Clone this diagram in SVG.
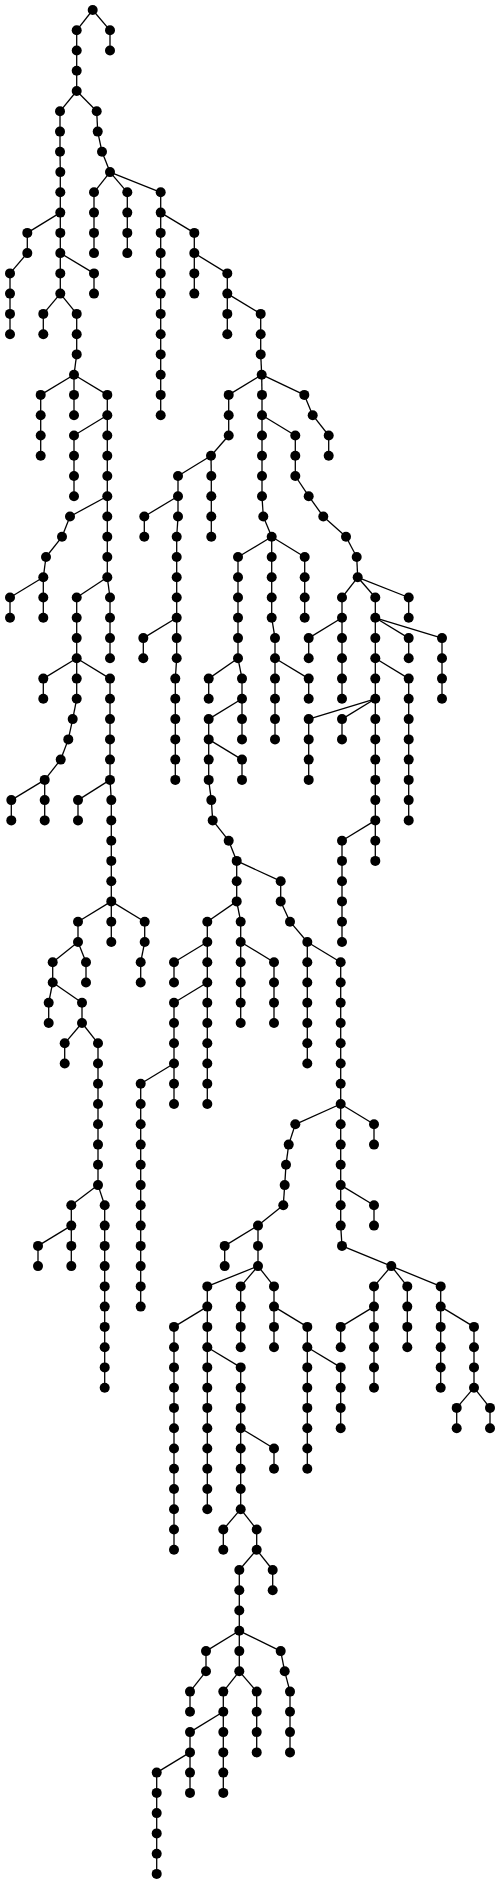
<svg xmlns="http://www.w3.org/2000/svg" width="500" height="1885" viewBox="0 0 500 1885">
<style>
#edges path{stroke:#000;stroke-width:1.3;fill:none}
#nodes circle{fill:#000;r:5px}
</style>
<rect width="500" height="1885" fill="#fff"/>
<g id="edges">
<path d="M92.7 10L76.7 30.3"/><path d="M76.7 30.3V50.5"/><path d="M76.7 50.5V70.8"/><path d="M76.7 70.8V91"/><path d="M76.7 91L60 111.3"/><path d="M60 111.3V131.6"/><path d="M60 131.6V151.8"/><path d="M60 151.8L60.3 172.1"/><path d="M60.3 172.1V192.3"/><path d="M60.3 192.3V212.6"/>
<path d="M60.3 212.6L27.3 232.9"/><path d="M27.3 232.9V253.1"/><path d="M27.3 253.1L10 273.4"/><path d="M10 273.4V293.6"/><path d="M10 293.6V313.9"/><path d="M10 313.9V334.2"/>
<path d="M60.3 212.6V232.9"/><path d="M60.3 232.9V253.1"/><path d="M60.3 253.1L94 273.4"/><path d="M94 273.4V293.6"/><path d="M60.3 253.1V273.4"/><path d="M60.3 273.4V293.6"/><path d="M60.3 293.6L43.3 313.9"/><path d="M43.3 313.9V334.2"/><path d="M60.3 293.6L76.7 313.9"/><path d="M76.7 313.9V334.2"/><path d="M76.7 334.2V354.4"/><path d="M76.7 354.4L74 374.7"/>
<path d="M74 374.7L40.7 394.9"/><path d="M40.7 394.9V415.2"/><path d="M40.7 415.2V435.5"/><path d="M40.7 435.5V455.7"/><path d="M74 374.7V394.9"/><path d="M74 394.9V415.2"/><path d="M74 374.7L107.3 394.9"/><path d="M107.3 394.9V415.2"/><path d="M107.3 415.2L74 435.5"/><path d="M74 435.5V455.7"/><path d="M74 455.7V476"/><path d="M74 476V496.2"/>
<path d="M107.3 415.2V435.5"/><path d="M107.3 435.5V455.7"/><path d="M107.3 455.7V476"/><path d="M107.3 476V496.2"/><path d="M107.3 496.2L70 516.5"/><path d="M70 516.5L62 536.8"/><path d="M62 536.8L46 557"/><path d="M46 557L43.3 577.3"/><path d="M43.3 577.3L10 597.5"/><path d="M10 597.5V617.8"/><path d="M43.3 577.3V597.5"/><path d="M43.3 597.5V617.8"/>
<path d="M107.3 496.2V516.5"/><path d="M107.3 516.5V536.8"/><path d="M107.3 536.8V557"/><path d="M107.3 557V577.3"/><path d="M107.3 577.3L76.7 597.5"/><path d="M76.7 597.5V617.8"/><path d="M76.7 617.8V638.1"/><path d="M76.7 638.1V658.3"/><path d="M76.7 658.3L43.3 678.6"/><path d="M43.3 678.6V698.8"/><path d="M76.7 658.3V678.6"/><path d="M76.7 678.6V698.8"/>
<path d="M76.7 698.8L72.7 719.1"/><path d="M72.7 719.1L68.3 739.4"/><path d="M68.3 739.4L60.7 759.6"/><path d="M60.7 759.6L44.7 779.9"/><path d="M44.7 779.9L11.3 800.1"/><path d="M11.3 800.1V820.4"/><path d="M44.7 779.9V800.1"/><path d="M44.7 800.1V820.4"/>
<path d="M76.7 658.3L110 678.6"/><path d="M110 678.6V698.8"/><path d="M110 698.8V719.1"/><path d="M110 719.1V739.4"/><path d="M110 739.4V759.6"/><path d="M110 759.6V779.9"/><path d="M110 779.9L78 800.1"/><path d="M78 800.1V820.4"/><path d="M110 779.9L111.3 800.1"/><path d="M111.3 800.1V820.4"/><path d="M111.3 820.4V840.7"/><path d="M111.3 840.7V860.9"/><path d="M111.3 860.9V881.2"/><path d="M111.3 881.2V901.4"/>
<path d="M111.3 901.4L78 921.7"/><path d="M78 921.7V942"/><path d="M78 942L52.7 962.2"/><path d="M52.7 962.2V982.5"/><path d="M52.7 982.5L48.7 1002.7"/><path d="M48.7 1002.7V1023"/><path d="M52.7 982.5L82 1002.7"/><path d="M82 1002.7V1023"/><path d="M82 1023L64.7 1043.3"/><path d="M64.7 1043.3V1063.5"/><path d="M82 1023L98 1043.3"/>
<path d="M98 1043.3V1063.5"/><path d="M98 1063.5V1083.8"/><path d="M98 1083.8V1104"/><path d="M98 1104V1124.3"/><path d="M98 1124.3V1144.6"/><path d="M98 1144.6V1164.8"/><path d="M98 1164.8V1185.1"/><path d="M98 1185.1L71.3 1205.3"/><path d="M71.3 1205.3V1225.6"/><path d="M71.3 1225.6L38 1245.9"/><path d="M38 1245.9V1266.1"/><path d="M71.3 1225.6V1245.9"/><path d="M71.3 1245.9V1266.1"/>
<path d="M98 1185.1L104.7 1205.3"/><path d="M104.7 1205.3V1225.6"/><path d="M104.7 1225.6V1245.9"/><path d="M104.7 1245.9V1266.1"/><path d="M104.7 1266.1V1286.4"/><path d="M104.7 1286.4V1306.6"/><path d="M104.7 1306.6V1326.9"/><path d="M104.7 1326.9V1347.2"/><path d="M104.7 1347.2V1367.4"/><path d="M104.7 1367.4V1387.7"/>
<path d="M78 942L86 962.2"/><path d="M86 962.2V982.5"/><path d="M111.3 901.4V921.7"/><path d="M111.3 921.7V942"/><path d="M111.3 901.4L144.7 921.7"/><path d="M144.7 921.7V942"/><path d="M144.7 942L140.7 962.2"/><path d="M140.7 962.2V982.5"/>
<path d="M107.3 577.3L110 597.5"/><path d="M110 597.5V617.8"/><path d="M110 617.8V638.1"/><path d="M110 638.1V658.3"/>
<path d="M76.7 91L96.7 111.3"/><path d="M96.7 111.3L97.7 131.6"/><path d="M97.7 131.6L102 151.8"/><path d="M102 151.8L110 172.1"/><path d="M110 172.1L94 192.3"/><path d="M94 192.3V212.6"/><path d="M94 212.6V232.9"/><path d="M94 232.9V253.1"/><path d="M110 172.1L127.3 192.3"/><path d="M127.3 192.3V212.6"/><path d="M127.3 212.6V232.9"/><path d="M127.3 232.9V253.1"/>
<path d="M110 172.1L160.7 192.3"/><path d="M160.7 192.3V212.6"/><path d="M160.7 212.6V232.9"/><path d="M160.7 232.9V253.1"/><path d="M160.7 253.1V273.4"/><path d="M160.7 273.4V293.6"/><path d="M160.7 293.6V313.9"/><path d="M160.7 313.9V334.2"/><path d="M160.7 334.2V354.4"/><path d="M160.7 354.4V374.7"/><path d="M160.7 374.7V394.9"/><path d="M160.7 394.9V415.2"/>
<path d="M160.7 212.6L194.3 232.9"/><path d="M194.3 232.9V253.1"/><path d="M194.3 253.1V273.4"/><path d="M194.3 273.4V293.6"/><path d="M194.3 253.1L227.3 273.4"/><path d="M227.3 273.4V293.6"/><path d="M227.3 293.6V313.9"/><path d="M227.3 313.9V334.2"/><path d="M227.3 293.6L260.7 313.9"/><path d="M260.7 313.9V334.2"/><path d="M260.7 334.2V354.4"/><path d="M260.7 354.4L261.7 374.7"/>
<path d="M261.7 374.7L228.7 394.9"/><path d="M228.7 394.9V415.2"/><path d="M228.7 415.2V435.5"/><path d="M228.7 435.5L211 455.7"/><path d="M211 455.7L178 476"/><path d="M178 476V496.2"/><path d="M178 496.2L144.3 516.5"/><path d="M144.3 516.5V536.8"/><path d="M178 496.2V516.5"/><path d="M178 516.5L176.7 536.8"/><path d="M176.7 536.8V557"/><path d="M176.7 557V577.3"/><path d="M176.7 577.3V597.5"/><path d="M176.7 597.5V617.8"/>
<path d="M176.7 617.8L143.3 638.1"/><path d="M143.3 638.1V658.3"/><path d="M176.7 617.8V638.1"/><path d="M176.7 638.1V658.3"/><path d="M176.7 658.3L175.3 678.6"/><path d="M175.3 678.6V698.8"/><path d="M175.3 698.8V719.1"/><path d="M175.3 719.1V739.4"/><path d="M175.3 739.4V759.6"/><path d="M175.3 759.6V779.9"/>
<path d="M211 455.7L211.3 476"/><path d="M211.3 476V496.2"/><path d="M211.3 496.2V516.5"/><path d="M211.3 516.5V536.8"/>
<path d="M261.7 374.7L262 394.9"/><path d="M262 394.9V415.2"/><path d="M262 415.2V435.5"/><path d="M262 435.5V455.7"/><path d="M262 455.7V476"/><path d="M262 476V496.2"/><path d="M262 496.2L263.3 516.5"/><path d="M263.3 516.5L271.7 536.8"/>
<path d="M271.7 536.8L238 557"/><path d="M238 557V577.3"/><path d="M238 577.3V597.5"/><path d="M238 597.5V617.8"/><path d="M238 617.8V638.1"/><path d="M238 638.1V658.3"/><path d="M238 658.3L208.7 678.6"/><path d="M208.7 678.6V698.8"/><path d="M238 658.3L242 678.6"/><path d="M242 678.6V698.8"/><path d="M242 698.8L208.7 719.1"/><path d="M208.7 719.1V739.4"/><path d="M208.7 739.4V759.6"/><path d="M208.7 759.6V779.9"/>
<path d="M208.7 779.9L211.3 800.1"/><path d="M211.3 800.1L212.7 820.4"/><path d="M212.7 820.4L228.7 840.7"/><path d="M228.7 840.7L236.7 860.9"/><path d="M236.7 860.9V881.2"/><path d="M236.7 881.2V901.4"/><path d="M236.7 901.4L207.3 921.7"/><path d="M207.3 921.7V942"/><path d="M207.3 942L174 962.2"/><path d="M174 962.2V982.5"/><path d="M207.3 942V962.2"/><path d="M207.3 962.2V982.5"/>
<path d="M207.3 982.5L174 1002.7"/><path d="M174 1002.7V1023"/><path d="M174 1023V1043.3"/><path d="M174 1043.3V1063.5"/><path d="M174 1063.5L140.7 1083.8"/><path d="M140.7 1083.8V1104"/><path d="M140.7 1104V1124.3"/><path d="M140.7 1124.3V1144.6"/><path d="M140.7 1144.6V1164.8"/><path d="M140.7 1164.8V1185.1"/><path d="M140.7 1185.1V1205.3"/><path d="M140.7 1205.3V1225.6"/><path d="M140.7 1225.6V1245.9"/><path d="M140.7 1245.9V1266.1"/><path d="M140.7 1266.1V1286.4"/><path d="M140.7 1286.4V1306.6"/>
<path d="M174 1063.5V1083.8"/><path d="M174 1083.8V1104"/><path d="M207.3 982.5V1002.7"/><path d="M207.3 1002.7V1023"/><path d="M207.3 1023V1043.3"/><path d="M207.3 1043.3V1063.5"/><path d="M207.3 1063.5V1083.8"/><path d="M207.3 1083.8V1104"/>
<path d="M236.7 901.4L240.7 921.7"/><path d="M240.7 921.7V942"/><path d="M240.7 942V962.2"/><path d="M240.7 962.2V982.5"/><path d="M240.7 982.5V1002.7"/><path d="M240.7 1002.7V1023"/><path d="M240.7 942L274 962.2"/><path d="M274 962.2V982.5"/><path d="M274 982.5V1002.7"/><path d="M274 1002.7V1023"/>
<path d="M236.7 860.9L280.7 881.2"/><path d="M280.7 881.2V901.4"/><path d="M280.7 901.4L290 921.7"/><path d="M290 921.7L307.3 942"/><path d="M307.3 942V962.2"/><path d="M307.3 962.2V982.5"/><path d="M307.3 982.5V1002.7"/><path d="M307.3 1002.7V1023"/><path d="M307.3 1023V1043.3"/><path d="M307.3 1043.3V1063.5"/>
<path d="M307.3 942L340.7 962.2"/><path d="M340.7 962.2V982.5"/><path d="M340.7 982.5V1002.7"/><path d="M340.7 1002.7V1023"/><path d="M340.7 1023V1043.3"/><path d="M340.7 1043.3V1063.5"/><path d="M340.7 1063.5V1083.8"/><path d="M340.7 1083.8V1104"/>
<path d="M340.7 1104L295.3 1124.3"/><path d="M295.3 1124.3L288.7 1144.6"/><path d="M288.7 1144.6L286 1164.8"/><path d="M286 1164.8L284.7 1185.1"/><path d="M284.7 1185.1L283.3 1205.3"/><path d="M283.3 1205.3L258 1225.6"/><path d="M258 1225.6L224.7 1245.9"/><path d="M224.7 1245.9V1266.1"/><path d="M258 1225.6V1245.9"/><path d="M258 1245.9V1266.1"/>
<path d="M258 1266.1L207.3 1286.4"/><path d="M207.3 1286.4V1306.6"/><path d="M207.3 1306.6L174 1326.9"/><path d="M174 1326.9V1347.2"/><path d="M174 1347.2V1367.4"/><path d="M174 1367.4V1387.7"/><path d="M174 1387.7V1407.9"/><path d="M174 1407.9V1428.2"/><path d="M174 1428.2V1448.5"/><path d="M174 1448.5V1468.7"/><path d="M174 1468.7V1489"/><path d="M174 1489V1509.2"/><path d="M174 1509.2V1529.5"/><path d="M174 1529.5V1549.8"/>
<path d="M207.3 1306.6V1326.9"/><path d="M207.3 1326.9V1347.2"/><path d="M207.3 1347.2V1367.4"/><path d="M207.3 1367.4V1387.7"/><path d="M207.3 1387.7V1407.9"/><path d="M207.3 1407.9V1428.2"/><path d="M207.3 1428.2V1448.5"/><path d="M207.3 1448.5V1468.7"/><path d="M207.3 1468.7V1489"/><path d="M207.3 1489V1509.2"/>
<path d="M207.3 1347.2L240.7 1367.4"/><path d="M240.7 1367.4V1387.7"/><path d="M240.7 1387.7V1407.9"/><path d="M240.7 1407.9V1428.2"/><path d="M240.7 1428.2V1448.5"/><path d="M240.7 1448.5V1468.7"/><path d="M240.7 1468.7V1489"/><path d="M240.7 1489V1509.2"/><path d="M240.7 1428.2L274 1448.5"/><path d="M274 1448.5V1468.7"/>
<path d="M240.7 1509.2L223.3 1529.5"/><path d="M223.3 1529.5V1549.8"/><path d="M240.7 1509.2L256.7 1529.5"/><path d="M256.7 1529.5V1549.8"/><path d="M256.7 1549.8L239.3 1570"/><path d="M239.3 1570V1590.3"/><path d="M239.3 1590.3V1610.5"/><path d="M239.3 1610.5V1630.8"/>
<path d="M239.3 1630.8L206 1651.1"/><path d="M206 1651.1V1671.3"/><path d="M206 1671.3L190 1691.6"/><path d="M190 1691.6V1711.8"/><path d="M239.3 1630.8V1651.1"/><path d="M239.3 1651.1V1671.3"/><path d="M239.3 1671.3L223.3 1691.6"/><path d="M223.3 1691.6V1711.8"/><path d="M223.3 1711.8L190 1732.1"/><path d="M190 1732.1V1752.4"/>
<path d="M190 1752.4L156.7 1772.6"/><path d="M156.7 1772.6V1792.9"/><path d="M156.7 1792.9V1813.1"/><path d="M156.7 1813.1V1833.4"/><path d="M156.7 1833.4V1853.7"/><path d="M156.7 1853.7V1873.9"/><path d="M190 1752.4V1772.6"/><path d="M190 1772.6V1792.9"/>
<path d="M223.3 1711.8V1732.1"/><path d="M223.3 1732.1V1752.4"/><path d="M223.3 1752.4V1772.6"/><path d="M223.3 1772.6V1792.9"/><path d="M239.3 1671.3L256.7 1691.6"/><path d="M256.7 1691.6V1711.8"/><path d="M256.7 1711.8V1732.1"/><path d="M256.7 1732.1V1752.4"/>
<path d="M239.3 1630.8L280.7 1651.1"/><path d="M280.7 1651.1L284.7 1671.3"/><path d="M284.7 1671.3L290 1691.6"/><path d="M290 1691.6V1711.8"/><path d="M290 1711.8V1732.1"/><path d="M290 1732.1V1752.4"/><path d="M256.7 1549.8L272.7 1570"/><path d="M272.7 1570V1590.3"/>
<path d="M258 1266.1L240.7 1286.4"/><path d="M240.7 1286.4V1306.6"/><path d="M240.7 1306.6V1326.9"/><path d="M240.7 1326.9V1347.2"/><path d="M258 1266.1L274 1286.4"/><path d="M274 1286.4V1306.6"/><path d="M274 1306.6V1326.9"/><path d="M274 1326.9V1347.2"/>
<path d="M274 1306.6L307.3 1326.9"/><path d="M307.3 1326.9V1347.2"/><path d="M307.3 1347.2V1367.4"/><path d="M307.3 1367.4V1387.7"/><path d="M307.3 1387.7V1407.9"/><path d="M307.3 1407.9V1428.2"/><path d="M307.3 1428.2V1448.5"/><path d="M307.3 1448.5V1468.7"/><path d="M307.3 1347.2L340.7 1367.4"/><path d="M340.7 1367.4V1387.7"/><path d="M340.7 1387.7V1407.9"/><path d="M340.7 1407.9V1428.2"/>
<path d="M340.7 1104V1124.3"/><path d="M340.7 1124.3V1144.6"/><path d="M340.7 1144.6V1164.8"/><path d="M340.7 1164.8V1185.1"/><path d="M340.7 1185.1V1205.3"/><path d="M340.7 1205.3V1225.6"/><path d="M340.7 1225.6L342 1245.9"/><path d="M342 1245.9L391.3 1266.1"/>
<path d="M391.3 1266.1L374 1286.4"/><path d="M374 1286.4V1306.6"/><path d="M374 1306.6L340.7 1326.9"/><path d="M340.7 1326.9V1347.2"/><path d="M374 1306.6V1326.9"/><path d="M374 1326.9V1347.2"/><path d="M374 1347.2V1367.4"/><path d="M374 1367.4V1387.7"/>
<path d="M391.3 1266.1L407.3 1286.4"/><path d="M407.3 1286.4V1306.6"/><path d="M407.3 1306.6V1326.9"/><path d="M407.3 1326.9V1347.2"/>
<path d="M391.3 1266.1L440.7 1286.4"/><path d="M440.7 1286.4V1306.6"/><path d="M440.7 1306.6V1326.9"/><path d="M440.7 1326.9V1347.2"/><path d="M440.7 1347.2V1367.4"/><path d="M440.7 1367.4V1387.7"/><path d="M440.7 1306.6L474 1326.9"/><path d="M474 1326.9V1347.2"/><path d="M474 1347.2V1367.4"/><path d="M474 1367.4V1387.7"/>
<path d="M474 1387.7L456.7 1407.9"/><path d="M456.7 1407.9V1428.2"/><path d="M474 1387.7L490 1407.9"/><path d="M490 1407.9V1428.2"/>
<path d="M340.7 1185.1L374 1205.3"/><path d="M374 1205.3V1225.6"/><path d="M340.7 1104L374 1124.3"/><path d="M374 1124.3V1144.6"/>
<path d="M242 698.8V719.1"/><path d="M242 719.1V739.4"/><path d="M208.7 739.4L242 759.6"/><path d="M242 759.6V779.9"/>
<path d="M271.7 536.8V557"/><path d="M271.7 557V577.3"/><path d="M271.7 577.3V597.5"/><path d="M271.7 597.5V617.8"/><path d="M271.7 617.8L275 638.1"/><path d="M275 638.1V658.3"/><path d="M275 658.3V678.6"/><path d="M275 678.6V698.8"/><path d="M275 698.8V719.1"/><path d="M275 719.1V739.4"/><path d="M275 658.3L308.7 678.6"/><path d="M308.7 678.6V698.8"/>
<path d="M271.7 536.8L304.7 557"/><path d="M304.7 557V577.3"/><path d="M304.7 577.3V597.5"/><path d="M304.7 597.5V617.8"/>
<path d="M262 415.2L295.3 435.5"/><path d="M295.3 435.5V455.7"/><path d="M295.3 455.7V476"/><path d="M295.3 476L308.7 496.2"/><path d="M308.7 496.2L323.3 516.5"/><path d="M323.3 516.5L346 536.8"/><path d="M346 536.8L356.7 557"/><path d="M356.7 557L357.7 577.3"/>
<path d="M357.7 577.3L342 597.5"/><path d="M342 597.5V617.8"/><path d="M342 617.8L308.7 638.1"/><path d="M308.7 638.1V658.3"/><path d="M342 617.8V638.1"/><path d="M342 638.1V658.3"/><path d="M342 658.3V678.6"/><path d="M342 678.6V698.8"/>
<path d="M357.7 577.3L375.3 597.5"/><path d="M375.3 597.5V617.8"/><path d="M375.3 617.8V638.1"/><path d="M375.3 638.1V658.3"/><path d="M375.3 658.3V678.6"/><path d="M375.3 678.6V698.8"/>
<path d="M375.3 698.8L308.7 719.1"/><path d="M308.7 719.1V739.4"/><path d="M308.7 739.4V759.6"/><path d="M308.7 759.6V779.9"/><path d="M375.3 698.8L342 719.1"/><path d="M342 719.1V739.4"/>
<path d="M375.3 698.8V719.1"/><path d="M375.3 719.1V739.4"/><path d="M375.3 739.4V759.6"/><path d="M375.3 759.6V779.9"/><path d="M375.3 779.9V800.1"/><path d="M375.3 800.1V820.4"/><path d="M375.3 820.4L342 840.7"/><path d="M342 840.7V860.9"/><path d="M342 860.9V881.2"/><path d="M342 881.2V901.4"/><path d="M342 901.4V921.7"/><path d="M342 921.7V942"/><path d="M375.3 820.4V840.7"/><path d="M375.3 840.7V860.9"/>
<path d="M375.3 658.3L408.7 678.6"/><path d="M408.7 678.6V698.8"/><path d="M408.7 698.8V719.1"/><path d="M408.7 719.1V739.4"/><path d="M408.7 739.4V759.6"/><path d="M408.7 759.6V779.9"/><path d="M408.7 779.9V800.1"/><path d="M408.7 800.1V820.4"/>
<path d="M375.3 617.8L408.7 638.1"/><path d="M408.7 638.1V658.3"/><path d="M375.3 617.8L442 638.1"/><path d="M442 638.1V658.3"/><path d="M442 658.3V678.6"/><path d="M442 678.6V698.8"/><path d="M357.7 577.3L408.7 597.5"/><path d="M408.7 597.5V617.8"/>
<path d="M261.7 374.7L304.3 394.9"/><path d="M304.3 394.9L312.7 415.2"/><path d="M312.7 415.2L328.7 435.5"/><path d="M328.7 435.5V455.7"/>
<path d="M92.7 10L110 30.3"/><path d="M110 30.3V50.5"/>
</g>
<g id="nodes">
<g id="n1"><circle cx="92.7" cy="10"/></g><g id="n2"><circle cx="76.7" cy="30.3"/></g><g id="n3"><circle cx="76.7" cy="50.5"/></g><g id="n4"><circle cx="76.7" cy="70.8"/></g><g id="n5"><circle cx="76.7" cy="91"/></g><g id="n6"><circle cx="60" cy="111.3"/></g><g id="n7"><circle cx="60" cy="131.6"/></g><g id="n8"><circle cx="60" cy="151.8"/></g><g id="n9"><circle cx="60.3" cy="172.1"/></g><g id="n10"><circle cx="60.3" cy="192.3"/></g>
<g id="n11"><circle cx="60.3" cy="212.6"/></g><g id="n12"><circle cx="27.3" cy="232.9"/></g><g id="n13"><circle cx="27.3" cy="253.1"/></g><g id="n14"><circle cx="10" cy="273.4"/></g><g id="n15"><circle cx="10" cy="293.6"/></g><g id="n16"><circle cx="10" cy="313.9"/></g><g id="n17"><circle cx="10" cy="334.2"/></g><g id="n18"><circle cx="60.3" cy="232.9"/></g><g id="n19"><circle cx="60.3" cy="253.1"/></g><g id="n20"><circle cx="94" cy="273.4"/></g>
<g id="n21"><circle cx="94" cy="293.6"/></g><g id="n22"><circle cx="60.3" cy="273.4"/></g><g id="n23"><circle cx="60.3" cy="293.6"/></g><g id="n24"><circle cx="43.3" cy="313.9"/></g><g id="n25"><circle cx="43.3" cy="334.2"/></g><g id="n26"><circle cx="76.7" cy="313.9"/></g><g id="n27"><circle cx="76.7" cy="334.2"/></g><g id="n28"><circle cx="76.7" cy="354.4"/></g><g id="n29"><circle cx="74" cy="374.7"/></g><g id="n30"><circle cx="40.7" cy="394.9"/></g>
<g id="n31"><circle cx="40.7" cy="415.2"/></g><g id="n32"><circle cx="40.7" cy="435.5"/></g><g id="n33"><circle cx="40.7" cy="455.7"/></g><g id="n34"><circle cx="74" cy="394.9"/></g><g id="n35"><circle cx="74" cy="415.2"/></g><g id="n36"><circle cx="107.3" cy="394.9"/></g><g id="n37"><circle cx="107.3" cy="415.2"/></g><g id="n38"><circle cx="74" cy="435.5"/></g><g id="n39"><circle cx="74" cy="455.7"/></g><g id="n40"><circle cx="74" cy="476"/></g>
<g id="n41"><circle cx="74" cy="496.2"/></g><g id="n42"><circle cx="107.3" cy="435.5"/></g><g id="n43"><circle cx="107.3" cy="455.7"/></g><g id="n44"><circle cx="107.3" cy="476"/></g><g id="n45"><circle cx="107.3" cy="496.2"/></g><g id="n46"><circle cx="70" cy="516.5"/></g><g id="n47"><circle cx="62" cy="536.8"/></g><g id="n48"><circle cx="46" cy="557"/></g><g id="n49"><circle cx="43.3" cy="577.3"/></g><g id="n50"><circle cx="10" cy="597.5"/></g>
<g id="n51"><circle cx="10" cy="617.8"/></g><g id="n52"><circle cx="43.3" cy="597.5"/></g><g id="n53"><circle cx="43.3" cy="617.8"/></g><g id="n54"><circle cx="107.3" cy="516.5"/></g><g id="n55"><circle cx="107.3" cy="536.8"/></g><g id="n56"><circle cx="107.3" cy="557"/></g><g id="n57"><circle cx="107.3" cy="577.3"/></g><g id="n58"><circle cx="76.7" cy="597.5"/></g><g id="n59"><circle cx="76.7" cy="617.8"/></g><g id="n60"><circle cx="76.7" cy="638.1"/></g>
<g id="n61"><circle cx="76.7" cy="658.3"/></g><g id="n62"><circle cx="43.3" cy="678.6"/></g><g id="n63"><circle cx="43.3" cy="698.8"/></g><g id="n64"><circle cx="76.7" cy="678.6"/></g><g id="n65"><circle cx="76.7" cy="698.8"/></g><g id="n66"><circle cx="72.7" cy="719.1"/></g><g id="n67"><circle cx="68.3" cy="739.4"/></g><g id="n68"><circle cx="60.7" cy="759.6"/></g><g id="n69"><circle cx="44.7" cy="779.9"/></g><g id="n70"><circle cx="11.3" cy="800.1"/></g>
<g id="n71"><circle cx="11.3" cy="820.4"/></g><g id="n72"><circle cx="44.7" cy="800.1"/></g><g id="n73"><circle cx="44.7" cy="820.4"/></g><g id="n74"><circle cx="110" cy="678.6"/></g><g id="n75"><circle cx="110" cy="698.8"/></g><g id="n76"><circle cx="110" cy="719.1"/></g><g id="n77"><circle cx="110" cy="739.4"/></g><g id="n78"><circle cx="110" cy="759.6"/></g><g id="n79"><circle cx="110" cy="779.9"/></g><g id="n80"><circle cx="78" cy="800.1"/></g>
<g id="n81"><circle cx="78" cy="820.4"/></g><g id="n82"><circle cx="111.3" cy="800.1"/></g><g id="n83"><circle cx="111.3" cy="820.4"/></g><g id="n84"><circle cx="111.3" cy="840.7"/></g><g id="n85"><circle cx="111.3" cy="860.9"/></g><g id="n86"><circle cx="111.3" cy="881.2"/></g><g id="n87"><circle cx="111.3" cy="901.4"/></g><g id="n88"><circle cx="78" cy="921.7"/></g><g id="n89"><circle cx="78" cy="942"/></g><g id="n90"><circle cx="52.7" cy="962.2"/></g>
<g id="n91"><circle cx="52.7" cy="982.5"/></g><g id="n92"><circle cx="48.7" cy="1002.7"/></g><g id="n93"><circle cx="48.7" cy="1023"/></g><g id="n94"><circle cx="82" cy="1002.7"/></g><g id="n95"><circle cx="82" cy="1023"/></g><g id="n96"><circle cx="64.7" cy="1043.3"/></g><g id="n97"><circle cx="64.7" cy="1063.5"/></g><g id="n98"><circle cx="98" cy="1043.3"/></g><g id="n99"><circle cx="98" cy="1063.5"/></g><g id="n100"><circle cx="98" cy="1083.8"/></g>
<g id="n101"><circle cx="98" cy="1104"/></g><g id="n102"><circle cx="98" cy="1124.3"/></g><g id="n103"><circle cx="98" cy="1144.6"/></g><g id="n104"><circle cx="98" cy="1164.8"/></g><g id="n105"><circle cx="98" cy="1185.1"/></g><g id="n106"><circle cx="71.3" cy="1205.3"/></g><g id="n107"><circle cx="71.3" cy="1225.6"/></g><g id="n108"><circle cx="38" cy="1245.9"/></g><g id="n109"><circle cx="38" cy="1266.1"/></g><g id="n110"><circle cx="71.3" cy="1245.9"/></g>
<g id="n111"><circle cx="71.3" cy="1266.1"/></g><g id="n112"><circle cx="104.7" cy="1205.3"/></g><g id="n113"><circle cx="104.7" cy="1225.6"/></g><g id="n114"><circle cx="104.7" cy="1245.9"/></g><g id="n115"><circle cx="104.7" cy="1266.1"/></g><g id="n116"><circle cx="104.7" cy="1286.4"/></g><g id="n117"><circle cx="104.7" cy="1306.6"/></g><g id="n118"><circle cx="104.7" cy="1326.9"/></g><g id="n119"><circle cx="104.7" cy="1347.2"/></g><g id="n120"><circle cx="104.7" cy="1367.4"/></g>
<g id="n121"><circle cx="104.7" cy="1387.7"/></g><g id="n122"><circle cx="86" cy="962.2"/></g><g id="n123"><circle cx="86" cy="982.5"/></g><g id="n124"><circle cx="111.3" cy="921.7"/></g><g id="n125"><circle cx="111.3" cy="942"/></g><g id="n126"><circle cx="144.7" cy="921.7"/></g><g id="n127"><circle cx="144.7" cy="942"/></g><g id="n128"><circle cx="140.7" cy="962.2"/></g><g id="n129"><circle cx="140.7" cy="982.5"/></g><g id="n130"><circle cx="110" cy="597.5"/></g>
<g id="n131"><circle cx="110" cy="617.8"/></g><g id="n132"><circle cx="110" cy="638.1"/></g><g id="n133"><circle cx="110" cy="658.3"/></g><g id="n134"><circle cx="96.7" cy="111.3"/></g><g id="n135"><circle cx="97.7" cy="131.6"/></g><g id="n136"><circle cx="102" cy="151.8"/></g><g id="n137"><circle cx="110" cy="172.1"/></g><g id="n138"><circle cx="94" cy="192.3"/></g><g id="n139"><circle cx="94" cy="212.6"/></g><g id="n140"><circle cx="94" cy="232.9"/></g>
<g id="n141"><circle cx="94" cy="253.1"/></g><g id="n142"><circle cx="127.3" cy="192.3"/></g><g id="n143"><circle cx="127.3" cy="212.6"/></g><g id="n144"><circle cx="127.3" cy="232.9"/></g><g id="n145"><circle cx="127.3" cy="253.1"/></g><g id="n146"><circle cx="160.7" cy="192.3"/></g><g id="n147"><circle cx="160.7" cy="212.6"/></g><g id="n148"><circle cx="160.7" cy="232.9"/></g><g id="n149"><circle cx="160.7" cy="253.1"/></g><g id="n150"><circle cx="160.7" cy="273.4"/></g>
<g id="n151"><circle cx="160.7" cy="293.6"/></g><g id="n152"><circle cx="160.7" cy="313.9"/></g><g id="n153"><circle cx="160.7" cy="334.2"/></g><g id="n154"><circle cx="160.7" cy="354.4"/></g><g id="n155"><circle cx="160.7" cy="374.7"/></g><g id="n156"><circle cx="160.7" cy="394.9"/></g><g id="n157"><circle cx="160.7" cy="415.2"/></g><g id="n158"><circle cx="194.3" cy="232.9"/></g><g id="n159"><circle cx="194.3" cy="253.1"/></g><g id="n160"><circle cx="194.3" cy="273.4"/></g>
<g id="n161"><circle cx="194.3" cy="293.6"/></g><g id="n162"><circle cx="227.3" cy="273.4"/></g><g id="n163"><circle cx="227.3" cy="293.6"/></g><g id="n164"><circle cx="227.3" cy="313.9"/></g><g id="n165"><circle cx="227.3" cy="334.2"/></g><g id="n166"><circle cx="260.7" cy="313.9"/></g><g id="n167"><circle cx="260.7" cy="334.2"/></g><g id="n168"><circle cx="260.7" cy="354.4"/></g><g id="n169"><circle cx="261.7" cy="374.7"/></g><g id="n170"><circle cx="228.7" cy="394.9"/></g>
<g id="n171"><circle cx="228.7" cy="415.2"/></g><g id="n172"><circle cx="228.7" cy="435.5"/></g><g id="n173"><circle cx="211" cy="455.7"/></g><g id="n174"><circle cx="178" cy="476"/></g><g id="n175"><circle cx="178" cy="496.2"/></g><g id="n176"><circle cx="144.3" cy="516.5"/></g><g id="n177"><circle cx="144.3" cy="536.8"/></g><g id="n178"><circle cx="178" cy="516.5"/></g><g id="n179"><circle cx="176.7" cy="536.8"/></g><g id="n180"><circle cx="176.7" cy="557"/></g>
<g id="n181"><circle cx="176.7" cy="577.3"/></g><g id="n182"><circle cx="176.7" cy="597.5"/></g><g id="n183"><circle cx="176.7" cy="617.8"/></g><g id="n184"><circle cx="143.3" cy="638.1"/></g><g id="n185"><circle cx="143.3" cy="658.3"/></g><g id="n186"><circle cx="176.7" cy="638.1"/></g><g id="n187"><circle cx="176.7" cy="658.3"/></g><g id="n188"><circle cx="175.3" cy="678.6"/></g><g id="n189"><circle cx="175.3" cy="698.8"/></g><g id="n190"><circle cx="175.3" cy="719.1"/></g>
<g id="n191"><circle cx="175.3" cy="739.4"/></g><g id="n192"><circle cx="175.3" cy="759.6"/></g><g id="n193"><circle cx="175.3" cy="779.9"/></g><g id="n194"><circle cx="211.3" cy="476"/></g><g id="n195"><circle cx="211.3" cy="496.2"/></g><g id="n196"><circle cx="211.3" cy="516.5"/></g><g id="n197"><circle cx="211.3" cy="536.8"/></g><g id="n198"><circle cx="262" cy="394.9"/></g><g id="n199"><circle cx="262" cy="415.2"/></g><g id="n200"><circle cx="262" cy="435.5"/></g>
<g id="n201"><circle cx="262" cy="455.7"/></g><g id="n202"><circle cx="262" cy="476"/></g><g id="n203"><circle cx="262" cy="496.2"/></g><g id="n204"><circle cx="263.3" cy="516.5"/></g><g id="n205"><circle cx="271.7" cy="536.8"/></g><g id="n206"><circle cx="238" cy="557"/></g><g id="n207"><circle cx="238" cy="577.3"/></g><g id="n208"><circle cx="238" cy="597.5"/></g><g id="n209"><circle cx="238" cy="617.8"/></g><g id="n210"><circle cx="238" cy="638.1"/></g>
<g id="n211"><circle cx="238" cy="658.3"/></g><g id="n212"><circle cx="208.7" cy="678.6"/></g><g id="n213"><circle cx="208.7" cy="698.8"/></g><g id="n214"><circle cx="242" cy="678.6"/></g><g id="n215"><circle cx="242" cy="698.8"/></g><g id="n216"><circle cx="208.7" cy="719.1"/></g><g id="n217"><circle cx="208.7" cy="739.4"/></g><g id="n218"><circle cx="208.7" cy="759.6"/></g><g id="n219"><circle cx="208.7" cy="779.9"/></g><g id="n220"><circle cx="211.3" cy="800.1"/></g>
<g id="n221"><circle cx="212.7" cy="820.4"/></g><g id="n222"><circle cx="228.7" cy="840.7"/></g><g id="n223"><circle cx="236.7" cy="860.9"/></g><g id="n224"><circle cx="236.7" cy="881.2"/></g><g id="n225"><circle cx="236.7" cy="901.4"/></g><g id="n226"><circle cx="207.3" cy="921.7"/></g><g id="n227"><circle cx="207.3" cy="942"/></g><g id="n228"><circle cx="174" cy="962.2"/></g><g id="n229"><circle cx="174" cy="982.5"/></g><g id="n230"><circle cx="207.3" cy="962.2"/></g>
<g id="n231"><circle cx="207.3" cy="982.5"/></g><g id="n232"><circle cx="174" cy="1002.7"/></g><g id="n233"><circle cx="174" cy="1023"/></g><g id="n234"><circle cx="174" cy="1043.3"/></g><g id="n235"><circle cx="174" cy="1063.5"/></g><g id="n236"><circle cx="140.7" cy="1083.8"/></g><g id="n237"><circle cx="140.7" cy="1104"/></g><g id="n238"><circle cx="140.7" cy="1124.3"/></g><g id="n239"><circle cx="140.7" cy="1144.6"/></g><g id="n240"><circle cx="140.7" cy="1164.8"/></g>
<g id="n241"><circle cx="140.7" cy="1185.1"/></g><g id="n242"><circle cx="140.7" cy="1205.3"/></g><g id="n243"><circle cx="140.7" cy="1225.6"/></g><g id="n244"><circle cx="140.7" cy="1245.9"/></g><g id="n245"><circle cx="140.7" cy="1266.1"/></g><g id="n246"><circle cx="140.7" cy="1286.4"/></g><g id="n247"><circle cx="140.7" cy="1306.6"/></g><g id="n248"><circle cx="174" cy="1083.8"/></g><g id="n249"><circle cx="174" cy="1104"/></g><g id="n250"><circle cx="207.3" cy="1002.7"/></g>
<g id="n251"><circle cx="207.3" cy="1023"/></g><g id="n252"><circle cx="207.3" cy="1043.3"/></g><g id="n253"><circle cx="207.3" cy="1063.5"/></g><g id="n254"><circle cx="207.3" cy="1083.8"/></g><g id="n255"><circle cx="207.3" cy="1104"/></g><g id="n256"><circle cx="240.7" cy="921.7"/></g><g id="n257"><circle cx="240.7" cy="942"/></g><g id="n258"><circle cx="240.7" cy="962.2"/></g><g id="n259"><circle cx="240.7" cy="982.5"/></g><g id="n260"><circle cx="240.7" cy="1002.7"/></g>
<g id="n261"><circle cx="240.7" cy="1023"/></g><g id="n262"><circle cx="274" cy="962.2"/></g><g id="n263"><circle cx="274" cy="982.5"/></g><g id="n264"><circle cx="274" cy="1002.7"/></g><g id="n265"><circle cx="274" cy="1023"/></g><g id="n266"><circle cx="280.7" cy="881.2"/></g><g id="n267"><circle cx="280.7" cy="901.4"/></g><g id="n268"><circle cx="290" cy="921.7"/></g><g id="n269"><circle cx="307.3" cy="942"/></g><g id="n270"><circle cx="307.3" cy="962.2"/></g>
<g id="n271"><circle cx="307.3" cy="982.5"/></g><g id="n272"><circle cx="307.3" cy="1002.7"/></g><g id="n273"><circle cx="307.3" cy="1023"/></g><g id="n274"><circle cx="307.3" cy="1043.3"/></g><g id="n275"><circle cx="307.3" cy="1063.5"/></g><g id="n276"><circle cx="340.7" cy="962.2"/></g><g id="n277"><circle cx="340.7" cy="982.5"/></g><g id="n278"><circle cx="340.7" cy="1002.7"/></g><g id="n279"><circle cx="340.7" cy="1023"/></g><g id="n280"><circle cx="340.7" cy="1043.3"/></g>
<g id="n281"><circle cx="340.7" cy="1063.5"/></g><g id="n282"><circle cx="340.7" cy="1083.8"/></g><g id="n283"><circle cx="340.7" cy="1104"/></g><g id="n284"><circle cx="295.3" cy="1124.3"/></g><g id="n285"><circle cx="288.7" cy="1144.6"/></g><g id="n286"><circle cx="286" cy="1164.8"/></g><g id="n287"><circle cx="284.7" cy="1185.1"/></g><g id="n288"><circle cx="283.3" cy="1205.3"/></g><g id="n289"><circle cx="258" cy="1225.6"/></g><g id="n290"><circle cx="224.7" cy="1245.9"/></g>
<g id="n291"><circle cx="224.7" cy="1266.1"/></g><g id="n292"><circle cx="258" cy="1245.9"/></g><g id="n293"><circle cx="258" cy="1266.1"/></g><g id="n294"><circle cx="207.3" cy="1286.4"/></g><g id="n295"><circle cx="207.3" cy="1306.6"/></g><g id="n296"><circle cx="174" cy="1326.9"/></g><g id="n297"><circle cx="174" cy="1347.2"/></g><g id="n298"><circle cx="174" cy="1367.4"/></g><g id="n299"><circle cx="174" cy="1387.7"/></g><g id="n300"><circle cx="174" cy="1407.9"/></g>
<g id="n301"><circle cx="174" cy="1428.2"/></g><g id="n302"><circle cx="174" cy="1448.5"/></g><g id="n303"><circle cx="174" cy="1468.7"/></g><g id="n304"><circle cx="174" cy="1489"/></g><g id="n305"><circle cx="174" cy="1509.2"/></g><g id="n306"><circle cx="174" cy="1529.5"/></g><g id="n307"><circle cx="174" cy="1549.8"/></g><g id="n308"><circle cx="207.3" cy="1326.9"/></g><g id="n309"><circle cx="207.3" cy="1347.2"/></g><g id="n310"><circle cx="207.3" cy="1367.4"/></g>
<g id="n311"><circle cx="207.3" cy="1387.7"/></g><g id="n312"><circle cx="207.3" cy="1407.9"/></g><g id="n313"><circle cx="207.3" cy="1428.2"/></g><g id="n314"><circle cx="207.3" cy="1448.5"/></g><g id="n315"><circle cx="207.3" cy="1468.7"/></g><g id="n316"><circle cx="207.3" cy="1489"/></g><g id="n317"><circle cx="207.3" cy="1509.2"/></g><g id="n318"><circle cx="240.7" cy="1367.4"/></g><g id="n319"><circle cx="240.7" cy="1387.7"/></g><g id="n320"><circle cx="240.7" cy="1407.9"/></g>
<g id="n321"><circle cx="240.7" cy="1428.2"/></g><g id="n322"><circle cx="240.7" cy="1448.5"/></g><g id="n323"><circle cx="240.7" cy="1468.7"/></g><g id="n324"><circle cx="240.7" cy="1489"/></g><g id="n325"><circle cx="240.7" cy="1509.2"/></g><g id="n326"><circle cx="274" cy="1448.5"/></g><g id="n327"><circle cx="274" cy="1468.7"/></g><g id="n328"><circle cx="223.3" cy="1529.5"/></g><g id="n329"><circle cx="223.3" cy="1549.8"/></g><g id="n330"><circle cx="256.7" cy="1529.5"/></g>
<g id="n331"><circle cx="256.7" cy="1549.8"/></g><g id="n332"><circle cx="239.3" cy="1570"/></g><g id="n333"><circle cx="239.3" cy="1590.3"/></g><g id="n334"><circle cx="239.3" cy="1610.5"/></g><g id="n335"><circle cx="239.3" cy="1630.8"/></g><g id="n336"><circle cx="206" cy="1651.1"/></g><g id="n337"><circle cx="206" cy="1671.3"/></g><g id="n338"><circle cx="190" cy="1691.6"/></g><g id="n339"><circle cx="190" cy="1711.8"/></g><g id="n340"><circle cx="239.3" cy="1651.1"/></g>
<g id="n341"><circle cx="239.3" cy="1671.3"/></g><g id="n342"><circle cx="223.3" cy="1691.6"/></g><g id="n343"><circle cx="223.3" cy="1711.8"/></g><g id="n344"><circle cx="190" cy="1732.1"/></g><g id="n345"><circle cx="190" cy="1752.4"/></g><g id="n346"><circle cx="156.7" cy="1772.6"/></g><g id="n347"><circle cx="156.7" cy="1792.9"/></g><g id="n348"><circle cx="156.7" cy="1813.1"/></g><g id="n349"><circle cx="156.7" cy="1833.4"/></g><g id="n350"><circle cx="156.7" cy="1853.7"/></g>
<g id="n351"><circle cx="156.7" cy="1873.9"/></g><g id="n352"><circle cx="190" cy="1772.6"/></g><g id="n353"><circle cx="190" cy="1792.9"/></g><g id="n354"><circle cx="223.3" cy="1732.1"/></g><g id="n355"><circle cx="223.3" cy="1752.4"/></g><g id="n356"><circle cx="223.3" cy="1772.6"/></g><g id="n357"><circle cx="223.3" cy="1792.9"/></g><g id="n358"><circle cx="256.7" cy="1691.6"/></g><g id="n359"><circle cx="256.7" cy="1711.8"/></g><g id="n360"><circle cx="256.7" cy="1732.1"/></g>
<g id="n361"><circle cx="256.7" cy="1752.4"/></g><g id="n362"><circle cx="280.7" cy="1651.1"/></g><g id="n363"><circle cx="284.7" cy="1671.3"/></g><g id="n364"><circle cx="290" cy="1691.6"/></g><g id="n365"><circle cx="290" cy="1711.8"/></g><g id="n366"><circle cx="290" cy="1732.1"/></g><g id="n367"><circle cx="290" cy="1752.4"/></g><g id="n368"><circle cx="272.7" cy="1570"/></g><g id="n369"><circle cx="272.7" cy="1590.3"/></g><g id="n370"><circle cx="240.7" cy="1286.4"/></g>
<g id="n371"><circle cx="240.7" cy="1306.6"/></g><g id="n372"><circle cx="240.7" cy="1326.9"/></g><g id="n373"><circle cx="240.7" cy="1347.2"/></g><g id="n374"><circle cx="274" cy="1286.4"/></g><g id="n375"><circle cx="274" cy="1306.6"/></g><g id="n376"><circle cx="274" cy="1326.9"/></g><g id="n377"><circle cx="274" cy="1347.2"/></g><g id="n378"><circle cx="307.3" cy="1326.9"/></g><g id="n379"><circle cx="307.3" cy="1347.2"/></g><g id="n380"><circle cx="307.3" cy="1367.4"/></g>
<g id="n381"><circle cx="307.3" cy="1387.7"/></g><g id="n382"><circle cx="307.3" cy="1407.9"/></g><g id="n383"><circle cx="307.3" cy="1428.2"/></g><g id="n384"><circle cx="307.3" cy="1448.5"/></g><g id="n385"><circle cx="307.3" cy="1468.7"/></g><g id="n386"><circle cx="340.7" cy="1367.4"/></g><g id="n387"><circle cx="340.7" cy="1387.7"/></g><g id="n388"><circle cx="340.7" cy="1407.9"/></g><g id="n389"><circle cx="340.7" cy="1428.2"/></g><g id="n390"><circle cx="340.7" cy="1124.3"/></g>
<g id="n391"><circle cx="340.7" cy="1144.6"/></g><g id="n392"><circle cx="340.7" cy="1164.8"/></g><g id="n393"><circle cx="340.7" cy="1185.1"/></g><g id="n394"><circle cx="340.7" cy="1205.3"/></g><g id="n395"><circle cx="340.7" cy="1225.6"/></g><g id="n396"><circle cx="342" cy="1245.9"/></g><g id="n397"><circle cx="391.3" cy="1266.1"/></g><g id="n398"><circle cx="374" cy="1286.4"/></g><g id="n399"><circle cx="374" cy="1306.6"/></g><g id="n400"><circle cx="340.7" cy="1326.9"/></g>
<g id="n401"><circle cx="340.7" cy="1347.2"/></g><g id="n402"><circle cx="374" cy="1326.9"/></g><g id="n403"><circle cx="374" cy="1347.2"/></g><g id="n404"><circle cx="374" cy="1367.4"/></g><g id="n405"><circle cx="374" cy="1387.7"/></g><g id="n406"><circle cx="407.3" cy="1286.4"/></g><g id="n407"><circle cx="407.3" cy="1306.6"/></g><g id="n408"><circle cx="407.3" cy="1326.9"/></g><g id="n409"><circle cx="407.3" cy="1347.2"/></g><g id="n410"><circle cx="440.7" cy="1286.4"/></g>
<g id="n411"><circle cx="440.7" cy="1306.6"/></g><g id="n412"><circle cx="440.7" cy="1326.9"/></g><g id="n413"><circle cx="440.7" cy="1347.2"/></g><g id="n414"><circle cx="440.7" cy="1367.4"/></g><g id="n415"><circle cx="440.7" cy="1387.7"/></g><g id="n416"><circle cx="474" cy="1326.9"/></g><g id="n417"><circle cx="474" cy="1347.2"/></g><g id="n418"><circle cx="474" cy="1367.4"/></g><g id="n419"><circle cx="474" cy="1387.7"/></g><g id="n420"><circle cx="456.7" cy="1407.9"/></g>
<g id="n421"><circle cx="456.7" cy="1428.2"/></g><g id="n422"><circle cx="490" cy="1407.9"/></g><g id="n423"><circle cx="490" cy="1428.2"/></g><g id="n424"><circle cx="374" cy="1205.3"/></g><g id="n425"><circle cx="374" cy="1225.6"/></g><g id="n426"><circle cx="374" cy="1124.3"/></g><g id="n427"><circle cx="374" cy="1144.6"/></g><g id="n428"><circle cx="242" cy="719.1"/></g><g id="n429"><circle cx="242" cy="739.4"/></g><g id="n430"><circle cx="242" cy="759.6"/></g>
<g id="n431"><circle cx="242" cy="779.9"/></g><g id="n432"><circle cx="271.7" cy="557"/></g><g id="n433"><circle cx="271.7" cy="577.3"/></g><g id="n434"><circle cx="271.7" cy="597.5"/></g><g id="n435"><circle cx="271.7" cy="617.8"/></g><g id="n436"><circle cx="275" cy="638.1"/></g><g id="n437"><circle cx="275" cy="658.3"/></g><g id="n438"><circle cx="275" cy="678.6"/></g><g id="n439"><circle cx="275" cy="698.8"/></g><g id="n440"><circle cx="275" cy="719.1"/></g>
<g id="n441"><circle cx="275" cy="739.4"/></g><g id="n442"><circle cx="308.7" cy="678.6"/></g><g id="n443"><circle cx="308.7" cy="698.8"/></g><g id="n444"><circle cx="304.7" cy="557"/></g><g id="n445"><circle cx="304.7" cy="577.3"/></g><g id="n446"><circle cx="304.7" cy="597.5"/></g><g id="n447"><circle cx="304.7" cy="617.8"/></g><g id="n448"><circle cx="295.3" cy="435.5"/></g><g id="n449"><circle cx="295.3" cy="455.7"/></g><g id="n450"><circle cx="295.3" cy="476"/></g>
<g id="n451"><circle cx="308.7" cy="496.2"/></g><g id="n452"><circle cx="323.3" cy="516.5"/></g><g id="n453"><circle cx="346" cy="536.8"/></g><g id="n454"><circle cx="356.7" cy="557"/></g><g id="n455"><circle cx="357.7" cy="577.3"/></g><g id="n456"><circle cx="342" cy="597.5"/></g><g id="n457"><circle cx="342" cy="617.8"/></g><g id="n458"><circle cx="308.7" cy="638.1"/></g><g id="n459"><circle cx="308.7" cy="658.3"/></g><g id="n460"><circle cx="342" cy="638.1"/></g>
<g id="n461"><circle cx="342" cy="658.3"/></g><g id="n462"><circle cx="342" cy="678.6"/></g><g id="n463"><circle cx="342" cy="698.8"/></g><g id="n464"><circle cx="375.3" cy="597.5"/></g><g id="n465"><circle cx="375.3" cy="617.8"/></g><g id="n466"><circle cx="375.3" cy="638.1"/></g><g id="n467"><circle cx="375.3" cy="658.3"/></g><g id="n468"><circle cx="375.3" cy="678.6"/></g><g id="n469"><circle cx="375.3" cy="698.8"/></g><g id="n470"><circle cx="308.7" cy="719.1"/></g>
<g id="n471"><circle cx="308.7" cy="739.4"/></g><g id="n472"><circle cx="308.7" cy="759.6"/></g><g id="n473"><circle cx="308.7" cy="779.9"/></g><g id="n474"><circle cx="342" cy="719.1"/></g><g id="n475"><circle cx="342" cy="739.4"/></g><g id="n476"><circle cx="375.3" cy="719.1"/></g><g id="n477"><circle cx="375.3" cy="739.4"/></g><g id="n478"><circle cx="375.3" cy="759.6"/></g><g id="n479"><circle cx="375.3" cy="779.9"/></g><g id="n480"><circle cx="375.3" cy="800.1"/></g>
<g id="n481"><circle cx="375.3" cy="820.4"/></g><g id="n482"><circle cx="342" cy="840.7"/></g><g id="n483"><circle cx="342" cy="860.9"/></g><g id="n484"><circle cx="342" cy="881.2"/></g><g id="n485"><circle cx="342" cy="901.4"/></g><g id="n486"><circle cx="342" cy="921.7"/></g><g id="n487"><circle cx="342" cy="942"/></g><g id="n488"><circle cx="375.3" cy="840.7"/></g><g id="n489"><circle cx="375.3" cy="860.9"/></g><g id="n490"><circle cx="408.7" cy="678.6"/></g>
<g id="n491"><circle cx="408.7" cy="698.8"/></g><g id="n492"><circle cx="408.7" cy="719.1"/></g><g id="n493"><circle cx="408.7" cy="739.4"/></g><g id="n494"><circle cx="408.7" cy="759.6"/></g><g id="n495"><circle cx="408.7" cy="779.9"/></g><g id="n496"><circle cx="408.7" cy="800.1"/></g><g id="n497"><circle cx="408.7" cy="820.4"/></g><g id="n498"><circle cx="408.7" cy="638.1"/></g><g id="n499"><circle cx="408.7" cy="658.3"/></g><g id="n500"><circle cx="442" cy="638.1"/></g>
<g id="n501"><circle cx="442" cy="658.3"/></g><g id="n502"><circle cx="442" cy="678.6"/></g><g id="n503"><circle cx="442" cy="698.8"/></g><g id="n504"><circle cx="408.7" cy="597.5"/></g><g id="n505"><circle cx="408.7" cy="617.8"/></g><g id="n506"><circle cx="304.3" cy="394.9"/></g><g id="n507"><circle cx="312.7" cy="415.2"/></g><g id="n508"><circle cx="328.7" cy="435.5"/></g><g id="n509"><circle cx="328.7" cy="455.7"/></g><g id="n510"><circle cx="110" cy="30.3"/></g>
<g id="n511"><circle cx="110" cy="50.5"/></g>
</g>
</svg>
